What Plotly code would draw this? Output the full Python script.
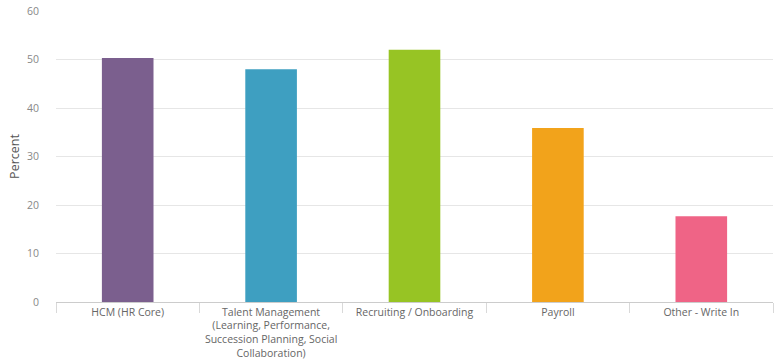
import plotly.graph_objects as go

categories = ["HCM (HR Core)",
              "Talent Management<br>(Learning, Performance,<br>Succession Planning, Social<br>Collaboration)",
              "Recruiting / Onboarding", "Payroll", "Other - Write In"]
values = [50.3, 48.0, 52.0, 35.9, 17.7]
colors = ["#7B5F8E", "#3E9FC1", "#97C424", "#F2A31B", "#EF6486"]
y_ticks = [0, 10, 20, 30, 40, 50, 60]

fig = go.Figure(go.Bar(x=categories, y=values, marker_color=colors,
                       marker_line_width=0, width=0.36))
fig.update_layout(
    width=778, height=362,
    margin=dict(l=56, r=5, t=11, b=60),
    plot_bgcolor="white", paper_bgcolor="white",
    font=dict(family="Open Sans, sans-serif", size=10, color="#666666"),
    showlegend=False,
)
fig.update_xaxes(tickson="boundaries", ticks="outside", ticklen=10, tickcolor="#d9d9d9",
                 showline=True, linecolor="#cccccc", linewidth=1, automargin=False,
                 tickfont=dict(size=10.5, color="#666666"), showgrid=False)
fig.update_yaxes(range=[0, 60], tickvals=y_ticks, showgrid=True, gridcolor="#e6e6e6",
                 zeroline=False, ticks="outside", ticklen=14, tickcolor="rgba(0,0,0,0)",
                 automargin=False,
                 title=dict(text="Percent", font=dict(size=12.5, color="#555555"), standoff=4),
                 tickfont=dict(size=10.5, color="#888888"))
fig.write_html("out.html")
